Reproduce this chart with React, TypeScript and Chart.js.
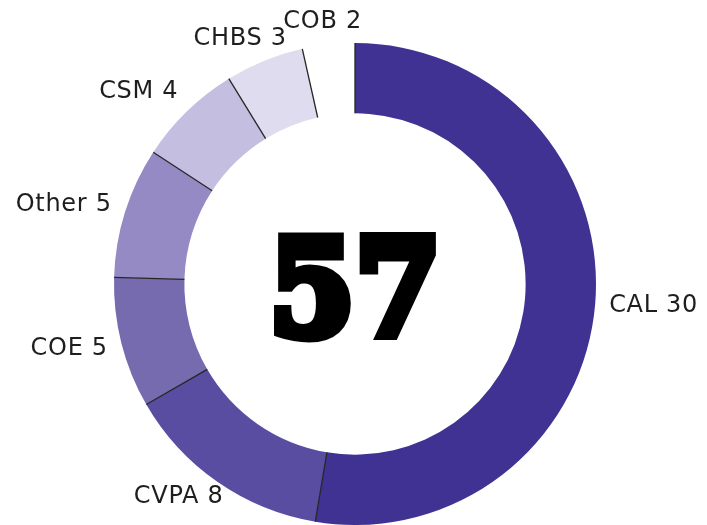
import React, { useEffect, useRef } from "react";
import { Chart, registerables } from "chart.js";

Chart.register(...registerables);

const categories = ["CAL", "CVPA", "COE", "Other", "CSM", "CHBS", "COB"];
const counts = [30, 8, 5, 5, 4, 3, 2];
const sliceColors = ["#403292", "#594da2", "#776bb0", "#958ac3", "#c4bee0", "#dfdcef", "#ffffff"];

const LABEL_FONT = '24px "DejaVu Sans"';
const CENTER_FONT = 'bold 133px "DejaVu Serif"';

const separatorsPlugin = {
  id: "separators",
  afterDatasetsDraw(chart: any) {
    const meta = chart.getDatasetMeta(0);
    const ctx = chart.ctx;
    ctx.save();
    ctx.strokeStyle = "#262626";
    ctx.lineWidth = 1.3;
    meta.data.forEach((arc: any) => {
      const p = arc.getProps(["x", "y", "startAngle", "innerRadius", "outerRadius"], true);
      const c = Math.cos(p.startAngle);
      const s = Math.sin(p.startAngle);
      ctx.beginPath();
      ctx.moveTo(p.x + c * p.innerRadius, p.y + s * p.innerRadius);
      ctx.lineTo(p.x + c * p.outerRadius, p.y + s * p.outerRadius);
      ctx.stroke();
    });
    ctx.restore();
  },
};

const labelsPlugin = {
  id: "outerLabels",
  afterDraw(chart: any) {
    const meta = chart.getDatasetMeta(0);
    const ctx = chart.ctx;
    ctx.save();
    ctx.font = LABEL_FONT;
    (ctx as any).letterSpacing = "0.7px";
    ctx.fillStyle = "#1e1e1e";
    ctx.textAlign = "center";
    ctx.textBaseline = "middle";
    const gap = 14;
    const h = 18;
    meta.data.forEach((arc: any, i: number) => {
      const p = arc.getProps(["x", "y", "startAngle", "endAngle", "outerRadius"], true);
      const mid = (p.startAngle + p.endAngle) / 2;
      const vx = Math.cos(mid);
      const vy = Math.sin(mid);
      const text = `${categories[i]} ${counts[i]}`;
      const w = ctx.measureText(text).width;
      const m = Math.max(Math.abs(vx), Math.abs(vy));
      let lx = p.x + vx * p.outerRadius + ((w / 2) * vx) / m + gap * vx;
      let ly = p.y + vy * p.outerRadius + ((h / 2) * vy) / m + gap * vy;
      ly = Math.min(Math.max(ly, h / 2 + 11), chart.height - h / 2 - 19);
      lx = Math.min(Math.max(lx, w / 2 + 4), chart.width - w / 2 - 4);
      ctx.fillText(text, lx, ly);
    });
    ctx.restore();
  },
};

const centerPlugin = {
  id: "centerTotal",
  afterDraw(chart: any) {
    const meta = chart.getDatasetMeta(0);
    const arc = meta.data[0];
    if (!arc) return;
    const { x, y } = arc.getProps(["x", "y"], true);
    const total = counts.reduce((a, b) => a + b, 0);
    const ctx = chart.ctx;
    ctx.save();
    ctx.font = CENTER_FONT;
    ctx.textAlign = "center";
    ctx.textBaseline = "alphabetic";
    const mt = ctx.measureText(String(total));
    const asc = mt.actualBoundingBoxAscent;
    ctx.translate(x, y + asc / 2 + 2);
    ctx.scale(0.93, 1);
    ctx.fillStyle = "#000";
    ctx.strokeStyle = "#000";
    ctx.lineWidth = 11;
    ctx.lineJoin = "miter";
    ctx.fillText(String(total), 0, 0);
    ctx.strokeText(String(total), 0, 0);
    ctx.restore();
  },
};

export default function App() {
  const canvasRef = useRef<HTMLCanvasElement | null>(null);

  useEffect(() => {
    const canvas = canvasRef.current;
    if (!canvas) return;
    const chart = new Chart(canvas, {
      type: "doughnut",
      data: {
        labels: categories,
        datasets: [
          {
            data: counts,
            backgroundColor: sliceColors,
            borderWidth: 0,
          },
        ],
      },
      options: {
        responsive: false,
        animation: false,
        cutout: "70.8%",
        layout: { padding: { left: 3, right: 0, top: 43, bottom: 0 } },
        plugins: {
          legend: { display: false },
          tooltip: { enabled: false },
        },
      },
      plugins: [separatorsPlugin, labelsPlugin, centerPlugin],
    });
    return () => chart.destroy();
  }, []);

  return (
    <div style={{ position: "fixed", left: 0, top: 0, width: 707, height: 525, background: "#fff" }}>
      <canvas ref={canvasRef} width={707} height={525} style={{ display: "block" }} />
    </div>
  );
}
